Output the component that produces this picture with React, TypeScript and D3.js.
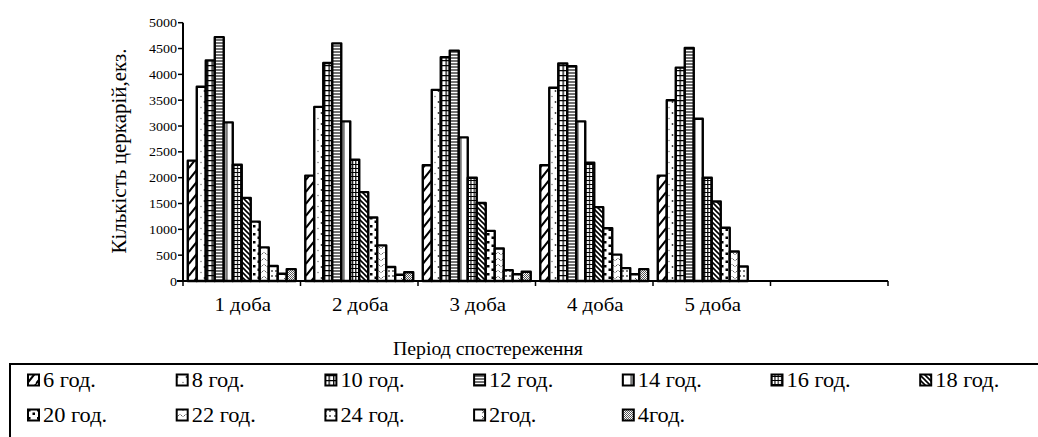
import React from 'react';
import * as d3 from 'd3';

const categories = ['1 доба', '2 доба', '3 доба', '4 доба', '5 доба', ''];
const seriesNames = ['6 год.', '8 год.', '10 год.', '12 год.', '14 год.', '16 год.', '18 год.', '20 год.', '22 год.', '24 год.', '2год.', '4год.'];
// values per series, one per category (null = no bar)
const s6 = [2330, 2040, 2240, 2240, 2040, null];
const s8 = [3760, 3370, 3700, 3740, 3500, null];
const s10 = [4270, 4220, 4330, 4210, 4130, null];
const s12 = [4720, 4600, 4460, 4160, 4510, null];
const s14 = [3070, 3090, 2780, 3090, 3140, null];
const s16 = [2250, 2350, 2000, 2290, 2000, null];
const s18 = [1610, 1720, 1510, 1430, 1540, null];
const s20 = [1150, 1230, 970, 1020, 1030, null];
const s22 = [650, 690, 630, 510, 570, null];
const s24 = [290, 270, 210, 250, 280, null];
const s2 = [140, 120, 130, 130, null, null];
const s4 = [230, 170, 180, 230, null, null];
const seriesValues = [s6, s8, s10, s12, s14, s16, s18, s20, s22, s24, s2, s4];
const yTicks = [0, 500, 1000, 1500, 2000, 2500, 3000, 3500, 4000, 4500, 5000];

const FONT = '"Liberation Serif", "Times New Roman", serif';

function SText(props: {
  x: number;
  y: number;
  sx: number;
  size: number;
  anchor?: string;
  dy?: string;
  children: React.ReactNode;
}) {
  const { x, y, sx, size, anchor, dy, children } = props;
  return (
    <text
      transform={`translate(${x},${y}) scale(${sx},1)`}
      textAnchor={anchor || 'start'}
      dy={dy}
      fontSize={size}
      fill="#000"
    >
      {children}
    </text>
  );
}

function Patterns() {
  return (
    <defs>
      <pattern id="p0" patternUnits="userSpaceOnUse" width="9" height="12">
        <rect width="9" height="12" fill="#fff" />
        <path d="M-1,13 L10,-1 M-1,1 L0,0 M9,12 L10,11" stroke="#000" strokeWidth="2" />
      </pattern>
      <pattern id="p1" patternUnits="userSpaceOnUse" width="9" height="11">
        <rect width="9" height="11" fill="#fff" />
        <circle cx="6.5" cy="3" r="0.9" fill="#333" />
        <circle cx="3" cy="8.5" r="0.7" fill="#666" />
      </pattern>
      <pattern id="p2" patternUnits="userSpaceOnUse" width="4.5" height="5">
        <rect width="4.5" height="5" fill="#fff" />
        <path d="M0,0.6 H4.5 M0.7,0 V5" stroke="#000" strokeWidth="1.3" />
      </pattern>
      <pattern id="p3" patternUnits="userSpaceOnUse" width="9" height="3">
        <rect width="9" height="3" fill="#fff" />
        <path d="M0,1 H9" stroke="#333" strokeWidth="1.4" />
      </pattern>
      <pattern id="p4" patternUnits="userSpaceOnUse" width="9" height="6">
        <rect width="9" height="6" fill="#fff" />
        <path d="M1.5,0 V6" stroke="#777" strokeWidth="2.5" />
      </pattern>
      <pattern id="p5" patternUnits="userSpaceOnUse" width="3.2" height="4">
        <rect width="3.2" height="4" fill="#fff" />
        <path d="M0,0.5 H3.2 M0.6,0 V4" stroke="#000" strokeWidth="1.1" />
      </pattern>
      <pattern id="p6" patternUnits="userSpaceOnUse" width="5" height="5">
        <rect width="5" height="5" fill="#fff" />
        <path d="M-1,-1 L6,6 M-1,4 L1,6 M4,-1 L6,1" stroke="#000" strokeWidth="1.6" />
      </pattern>
      <pattern id="p7" patternUnits="userSpaceOnUse" width="9" height="8">
        <rect width="9" height="8" fill="#fff" />
        <rect x="1" y="1" width="2.5" height="2.5" fill="#000" />
        <rect x="5.5" y="4.5" width="2.5" height="2.5" fill="#000" />
      </pattern>
      <pattern id="p8" patternUnits="userSpaceOnUse" width="6" height="6">
        <rect width="6" height="6" fill="#fff" />
        <path d="M0.5,0.5 L2.5,2.5 M5.5,0.5 L3.5,2.5" stroke="#555" strokeWidth="0.9" />
      </pattern>
      <pattern id="p9" patternUnits="userSpaceOnUse" width="9" height="5">
        <rect width="9" height="5" fill="#fff" />
        <path d="M2,0 V2 M6,0 V2" stroke="#222" strokeWidth="1.2" />
      </pattern>
      <pattern id="p10" patternUnits="userSpaceOnUse" width="9" height="6">
        <rect width="9" height="6" fill="#fff" />
        <path d="M5,2 L7,4 L5,5" stroke="#444" strokeWidth="0.9" fill="none" />
      </pattern>
      <pattern id="p11" patternUnits="userSpaceOnUse" width="2" height="2">
        <rect width="2" height="2" fill="#fff" />
        <rect width="1" height="1" fill="#555" />
        <rect x="1" y="1" width="1" height="1" fill="#555" />
      </pattern>
    </defs>
  );
}

export default function App() {
  const W = 1038;
  const H = 437;
  const x0 = 183;
  const x1 = 888;
  const yBase = 281;
  const yTop = 22.7;

  const x = d3.scaleBand<string>().domain(categories.map((c, i) => String(i))).range([x0, x1]).padding(0);
  const xs = d3
    .scaleBand<number>()
    .domain(seriesNames.map((_, i) => i))
    .range([0, x.bandwidth()])
    .paddingInner(0)
    .paddingOuter(0.53);
  const y = d3.scaleLinear().domain([0, 5000]).range([yBase, yTop]);

  const bars: React.ReactNode[] = [];
  categories.forEach((c, ci) => {
    seriesValues.forEach((vals, si) => {
      const v = vals[ci];
      if (v == null) return;
      const bx = (x(String(ci)) as number) + (xs(si) as number);
      bars.push(
        <rect
          key={`${ci}-${si}`}
          x={bx}
          y={y(v)}
          width={xs.bandwidth()}
          height={yBase - y(v)}
          fill={`url(#p${si})`}
          stroke="#000"
          strokeWidth={2.4}
          strokeLinejoin="round"
        />
      );
    });
  });

  const boundaries = d3.range(categories.length + 1).map((i) => x0 + i * x.step());

  const legendCols = 7;
  const legendX0 = 28;
  const legendStep = 148.7;
  const legendRows = [380, 415];

  return (
    <svg
      width={W}
      height={H}
      style={{ position: 'absolute', left: 0, top: 0, background: '#fff' }}
      fontFamily={FONT}
    >
      <Patterns />
      <rect width={W} height={H} fill="#fff" />
      {bars}
      <line x1={x0} y1={yTop} x2={x0} y2={yBase} stroke="#000" strokeWidth={2} />
      <line x1={x0 - 6} y1={yBase} x2={x1} y2={yBase} stroke="#000" strokeWidth={2.2} />
      {yTicks.map((t) => (
        <g key={t}>
          <line x1={x0 - 5} x2={x0} y1={y(t)} y2={y(t)} stroke="#000" strokeWidth={1.5} />
          <SText x={177} y={y(t)} dy="0.35em" anchor="end" size={13} sx={1.08}>
            {t}
          </SText>
        </g>
      ))}
      {boundaries.map((b, i) => (
        <line key={i} x1={b} x2={b} y1={yBase} y2={yBase + 5} stroke="#000" strokeWidth={1.5} />
      ))}
      {categories.map((c, i) => (
        <SText key={i} x={(x(String(i)) as number) + x.bandwidth() / 2 + 1} y={311} anchor="middle" size={18} sx={1.16}>
          {c}
        </SText>
      ))}
      <SText x={488} y={355} anchor="middle" size={18} sx={1.1}>
        Період спостереження
      </SText>
      <text transform={`translate(126,151) rotate(-90)`} textAnchor="middle" fontSize={21} fill="#000">
        Кількість церкарій,екз.
      </text>
      <rect x={10} y={364} width={1040} height={90} fill="none" stroke="#000" strokeWidth={2} />
      {seriesNames.map((n, i) => {
        const col = i % legendCols;
        const row = Math.floor(i / legendCols);
        const lx = legendX0 + col * legendStep;
        const ly = legendRows[row];
        return (
          <g key={n}>
            <rect x={lx} y={ly - 5.5} width={11} height={11} fill={`url(#p${i})`} stroke="#000" strokeWidth={2} />
            <SText x={lx + 15} y={ly + 7} size={20} sx={1.12}>
              {n}
            </SText>
          </g>
        );
      })}
    </svg>
  );
}
